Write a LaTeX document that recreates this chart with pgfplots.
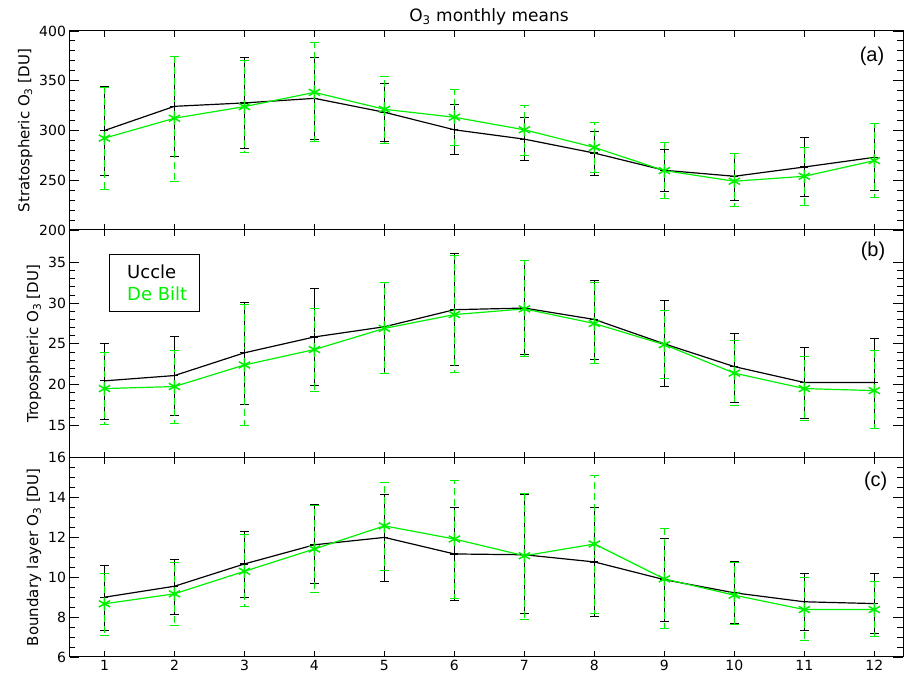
\documentclass[border=0pt]{standalone}
\usepackage{pgfplots}
\pgfplotsset{compat=1.18}
\usepackage{pgfplotstable}
\usepackage{fontspec}
\setmainfont{DejaVu Sans}
\newfontfamily\lib{Liberation Sans}
\definecolor{dbgreen}{RGB}{0,240,0}

% month, mean, lower end, upper end of the error bar
\pgfplotstableread{
x y lo hi
1 300.0 255.0 344.7
2 324.3 273.7 374.7
3 327.7 281.7 373.3
4 332.3 291.0 373.3
5 318.3 289.0 347.3
6 300.7 275.7 325.7
7 291.3 269.7 313.3
8 277.3 255.0 299.0
9 260.0 238.7 281.3
10 254.0 230.0 276.7
11 263.3 233.3 293.3
12 273.0 239.7 306.7
}\uccleA
\pgfplotstableread{
x y lo hi
1 292.3 240.3 343.3
2 312.3 248.3 374.7
3 324.0 278.3 370.7
4 338.3 289.0 388.0
5 321.3 287.3 354.7
6 313.3 284.7 341.3
7 300.7 275.0 325.0
8 283.0 257.3 308.0
9 259.7 231.3 288.0
10 249.0 223.3 276.7
11 254.0 224.7 283.0
12 269.7 233.0 306.7
}\debiltA
\pgfplotstableread{
x y lo hi
1 20.45 15.7 25.1
2 21.1 16.2 25.9
3 23.9 17.6 30.1
4 25.85 19.9 31.75
5 27.1 21.4 32.6
6 29.2 22.35 36.05
7 29.4 23.7 35.2
8 28.0 23.05 32.8
9 25.0 19.7 30.3
10 22.2 17.8 26.3
11 20.25 15.85 24.55
12 20.25 14.6 25.7
}\uccleB
\pgfplotstableread{
x y lo hi
1 19.5 15.1 23.95
2 19.75 15.2 24.2
3 22.4 15.0 29.8
4 24.3 19.2 29.4
5 26.9 21.4 32.6
6 28.6 21.5 35.9
7 29.3 23.4 35.2
8 27.5 22.55 32.5
9 24.9 20.8 29.1
10 21.4 17.4 25.4
11 19.5 15.55 23.5
12 19.25 14.6 24.15
}\debiltB
\pgfplotstableread{
x y lo hi
1 9.0 7.35 10.6
2 9.55 8.13 10.9
3 10.67 8.97 12.3
4 11.63 9.67 13.63
5 12.0 9.8 14.17
6 11.17 8.83 13.52
7 11.13 8.17 14.13
8 10.77 8.05 13.52
9 9.88 7.77 11.93
10 9.22 7.68 10.77
11 8.77 7.33 10.18
12 8.68 7.17 10.18
}\uccleC
\pgfplotstableread{
x y lo hi
1 8.67 7.1 10.2
2 9.17 7.6 10.75
3 10.3 8.55 12.13
4 11.42 9.22 13.6
5 12.58 10.35 14.75
6 11.92 8.93 14.88
7 11.08 7.88 14.22
8 11.67 8.18 15.13
9 9.92 7.42 12.47
10 9.1 7.63 10.72
11 8.38 6.85 9.97
12 8.38 7.05 9.8
}\debiltC

\pgfplotsset{
  panel/.style={
    scale only axis, width=833.5pt, anchor=south west,
    xmin=0.5, xmax=12.41, xtick={1,...,12},
    tick align=inside, xtick pos=both, ytick pos=both,
    yticklabel pos=left, xticklabel pos=bottom,
    axis line style={line width=1pt},
    tick style={black, line width=0.9pt},
    major tick length=10pt, minor tick length=6pt,
    xtick style={/pgfplots/major tick length=6pt},
    tick label style={font=\fontsize{14}{16}\selectfont},
    /pgf/number format/assume math mode=true,
    ylabel style={font=\fontsize{15}{18}\selectfont},
  },
  uccle/.style={black, line width=1.2pt, mark=+,
    mark options={mark size=4pt},
    error bars/.cd, y dir=both, y explicit,
    error bar style={black, line width=1pt},
    error mark options={rotate=90, mark size=4.5pt, black, line width=1pt}},
  debilt/.style={dbgreen, line width=1.2pt, mark=asterisk,
    mark options={solid, line width=1.5pt, mark size=6.5pt},
    error bars/.cd, y dir=both, y explicit,
    error bar style={dbgreen, line width=1pt, dash pattern=on 7pt off 4pt},
    error mark options={rotate=90, mark size=4.5pt, dbgreen, line width=1pt, solid}},
  /pgfplots/table/errcols/.style={x=x, y=y,
    y error plus expr=\thisrow{hi}-\thisrow{y},
    y error minus expr=\thisrow{y}-\thisrow{lo}},
}

\begin{document}
\begin{tikzpicture}
\path[use as bounding box] (0,0) rectangle (904pt,679pt);

\begin{axis}[panel, at={(69.5pt,449pt)}, height=199pt,
  ymin=200, ymax=400, ytick={200,250,...,400}, minor y tick num=4,
  xticklabels={}, ylabel={Stratospheric O\textsubscript{3} [DU]}]
  \addplot[uccle] table[errcols] {\uccleA};
  \addplot[debilt] table[errcols] {\debiltA};
\end{axis}

\begin{axis}[panel, at={(69.5pt,221.3pt)}, height=227.7pt,
  ymin=11, ymax=39, ytick={15,20,...,35}, minor y tick num=4,
  xticklabels={}, ylabel={Tropospheric O\textsubscript{3} [DU]}]
  \addplot[uccle] table[errcols] {\uccleB};
  \addplot[debilt] table[errcols] {\debiltB};
\end{axis}

\begin{axis}[panel, at={(69.5pt,22pt)}, height=199.3pt,
  ymin=6, ymax=16, ytick={6,8,...,16}, minor y tick num=3,
  ylabel={Boundary layer O\textsubscript{3} [DU]}]
  \addplot[uccle] table[errcols] {\uccleC};
  \addplot[debilt] table[errcols] {\debiltC};
\end{axis}

% title, legend box and panel letters
\node[font=\fontsize{17}{20}\selectfont] at (489pt,662pt) {O\textsubscript{3} monthly means};
\draw[line width=0.8pt] (109pt,368pt) rectangle (199pt,424.7pt);
\node[anchor=west, inner sep=0pt, font=\fontsize{18}{20}\selectfont] at (127pt,407.3pt) {Uccle};
\node[anchor=west, inner sep=0pt, text=dbgreen, font=\fontsize{18}{20}\selectfont] at (127pt,385pt) {De Bilt};
\node[font=\lib\fontsize{20}{24}\selectfont] at (872pt,623pt) {(a)};
\node[font=\lib\fontsize{20}{24}\selectfont] at (873pt,428pt) {(b)};
\node[font=\lib\fontsize{20}{24}\selectfont] at (875.7pt,198pt) {(c)};
\end{tikzpicture}
\end{document}
